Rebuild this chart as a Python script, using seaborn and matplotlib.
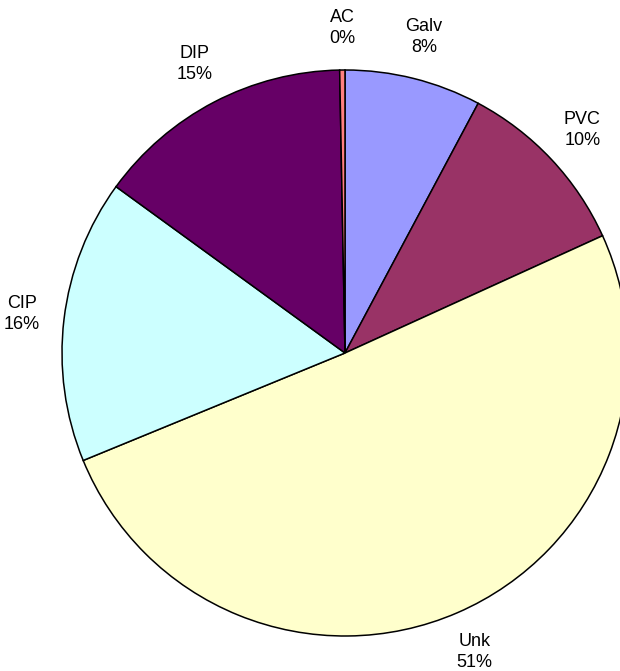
import matplotlib
matplotlib.use("Agg")
import matplotlib.pyplot as plt
import seaborn as sns

# pipe material shares, clockwise from 12 o'clock
materials = ["Galv", "PVC", "Unk", "CIP", "DIP", "AC"]
shares = [7.8, 10.4, 50.6, 16.2, 14.7, 0.3]
colors = ["#9999FF", "#993366", "#FFFFCC", "#CCFFFF", "#660066", "#FF8080"]

sns.set_theme(style="white")
plt.rcParams["font.family"] = ["Liberation Sans", "DejaVu Sans"]

labels = [f"{m}\n{v:.0f}%" for m, v in zip(materials, shares)]

fig = plt.figure(figsize=(6.2, 6.71), dpi=100)
ax = fig.add_axes([62 / 620, 35 / 671, 566 / 620, 566 / 671])

wedges, texts = ax.pie(shares, labels=labels, colors=sns.color_palette(colors),
                       startangle=90, counterclock=False, labeldistance=1.15,
                       wedgeprops={"edgecolor": "black", "linewidth": 1.1},
                       textprops={"fontsize": 13, "color": "black"})
for t in texts:
    t.set_horizontalalignment("center")
    t.set_linespacing(1.3)
    t.set_clip_on(False)
for w in wedges:
    w.set_clip_on(False)

ax.set_xlim(-1, 1)
ax.set_ylim(-1, 1)
ax.set_aspect("equal")
ax.axis("off")

fig.savefig("out.png", dpi=100)
